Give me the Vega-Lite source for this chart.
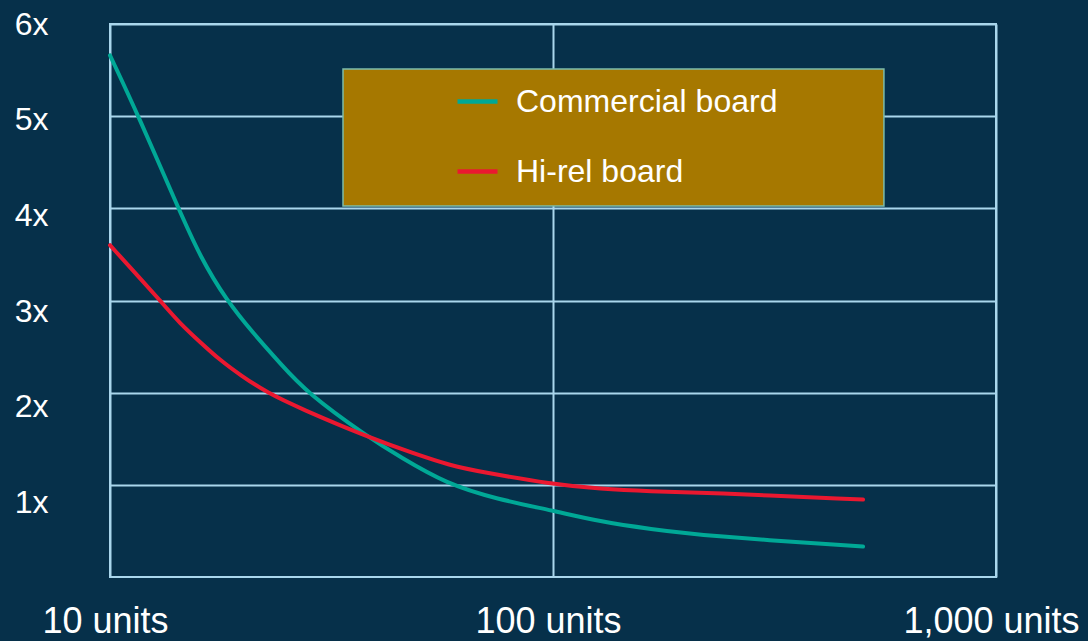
{
  "$schema": "https://vega.github.io/schema/vega-lite/v6.json",
  "width": 886,
  "height": 553,
  "autosize": {"type": "none"},
  "padding": {"left": 110, "top": 24, "right": 92, "bottom": 64},
  "background": "#06304a",
  "config": {
    "view": {"stroke": "#a9d6ec", "strokeWidth": 2},
    "font": "Liberation Sans",
    "axis": {"labelFont": "Liberation Sans", "labelColor": "#ffffff"},
    "legend": {"labelFont": "Liberation Sans"}
  },
  "layer": [
    {
      "layer": [
        {
          "data": {
            "values": [
              {"board": "Commercial board", "units": 10, "multiple": 5.66},
              {"board": "Commercial board", "units": 11.6, "multiple": 5.0},
              {"board": "Commercial board", "units": 14.27, "multiple": 4.0},
              {"board": "Commercial board", "units": 15.97, "multiple": 3.475},
              {"board": "Commercial board", "units": 18.33, "multiple": 3.0},
              {"board": "Commercial board", "units": 21.06, "multiple": 2.644},
              {"board": "Commercial board", "units": 24.2, "multiple": 2.32},
              {"board": "Commercial board", "units": 27.8, "multiple": 2.0},
              {"board": "Commercial board", "units": 38.3, "multiple": 1.516},
              {"board": "Commercial board", "units": 45.1, "multiple": 1.305},
              {"board": "Commercial board", "units": 57.5, "multiple": 1.01},
              {"board": "Commercial board", "units": 74.6, "multiple": 0.846},
              {"board": "Commercial board", "units": 100, "multiple": 0.72},
              {"board": "Commercial board", "units": 127.7, "multiple": 0.6},
              {"board": "Commercial board", "units": 165.6, "multiple": 0.52},
              {"board": "Commercial board", "units": 222, "multiple": 0.445},
              {"board": "Commercial board", "units": 501, "multiple": 0.33},
              {"board": "Hi-rel board", "units": 10, "multiple": 3.6},
              {"board": "Hi-rel board", "units": 11.7, "multiple": 3.24},
              {"board": "Hi-rel board", "units": 12.97, "multiple": 3.0},
              {"board": "Hi-rel board", "units": 14.39, "multiple": 2.75},
              {"board": "Hi-rel board", "units": 15.97, "multiple": 2.55},
              {"board": "Hi-rel board", "units": 17.7, "multiple": 2.354},
              {"board": "Hi-rel board", "units": 19.7, "multiple": 2.19},
              {"board": "Hi-rel board", "units": 22.6, "multiple": 2.0},
              {"board": "Hi-rel board", "units": 26.85, "multiple": 1.83},
              {"board": "Hi-rel board", "units": 38.3, "multiple": 1.516},
              {"board": "Hi-rel board", "units": 48.4, "multiple": 1.342},
              {"board": "Hi-rel board", "units": 58.6, "multiple": 1.21},
              {"board": "Hi-rel board", "units": 68.4, "multiple": 1.142},
              {"board": "Hi-rel board", "units": 100, "multiple": 1.005},
              {"board": "Hi-rel board", "units": 127.7, "multiple": 0.955},
              {"board": "Hi-rel board", "units": 165.6, "multiple": 0.93},
              {"board": "Hi-rel board", "units": 222, "multiple": 0.915},
              {"board": "Hi-rel board", "units": 501, "multiple": 0.84}
            ]
          },
          "mark": {"type": "line", "interpolate": "basis", "strokeWidth": 4, "strokeCap": "round"},
          "encoding": {
            "x": {
              "field": "units",
              "type": "quantitative",
              "scale": {"type": "log", "domain": [10, 1000]},
              "axis": {
                "title": null,
                "values": [10, 100, 1000],
                "labelExpr": "format(datum.value, ',') + ' units'",
                "grid": true,
                "gridColor": "#a9d6ec",
                "gridWidth": 2,
                "ticks": false,
                "domain": false,
                "labelFontSize": 36,
                "labelBaseline": "alphabetic",
                "labelPadding": 55,
                "labelFlush": false,
                "labelOffset": -5
              }
            },
            "y": {
              "field": "multiple",
              "type": "quantitative",
              "scale": {"domain": [0, 6], "nice": false},
              "axis": {
                "title": null,
                "values": [1, 2, 3, 4, 5, 6],
                "labels": false,
                "ticks": false,
                "domain": false,
                "grid": true,
                "gridColor": "#a9d6ec",
                "gridWidth": 2
              }
            },
            "color": {
              "field": "board",
              "type": "nominal",
              "sort": ["Commercial board", "Hi-rel board"],
              "scale": {"domain": ["Commercial board", "Hi-rel board"], "range": ["#00a896", "#ea1830"]},
              "legend": {
                "title": null,
                "orient": "none",
                "legendX": 345,
                "legendY": 55,
                "direction": "vertical",
                "symbolType": "stroke",
                "symbolSize": 1600,
                "symbolStrokeWidth": 4.5,
                "labelFontSize": 32,
                "labelColor": "#ffffff",
                "labelOffset": 16,
                "rowPadding": 31,
                "padding": 0,
                "labelLimit": 400
              }
            }
          }
        },
        {
          "data": {"values": [{}]},
          "mark": {"type": "rect", "fill": "#a67800", "stroke": "#7dbcaa", "strokeWidth": 1.5},
          "encoding": {
            "x": {"datum": 33.57, "type": "quantitative", "title": null},
            "x2": {"datum": 558.5},
            "y": {"datum": 5.512, "type": "quantitative", "title": null},
            "y2": {"datum": 4.025}
          }
        }
      ]
    },
    {
      "data": {"values": [{}]},
      "mark": {"type": "rule", "opacity": 0},
      "encoding": {
        "y": {
          "datum": 3,
          "type": "quantitative",
          "scale": {"domain": [0.224, 6], "nice": false, "zero": false},
          "axis": {
            "orient": "left",
            "title": null,
            "values": [1, 2, 3, 4, 5, 6],
            "labelExpr": "datum.value + 'x'",
            "grid": false,
            "ticks": false,
            "domain": false,
            "labelFontSize": 32,
            "labelPadding": 62,
            "labelBaseline": "middle"
          }
        }
      }
    }
  ],
  "resolve": {"scale": {"y": "independent"}, "axis": {"y": "independent"}}
}
